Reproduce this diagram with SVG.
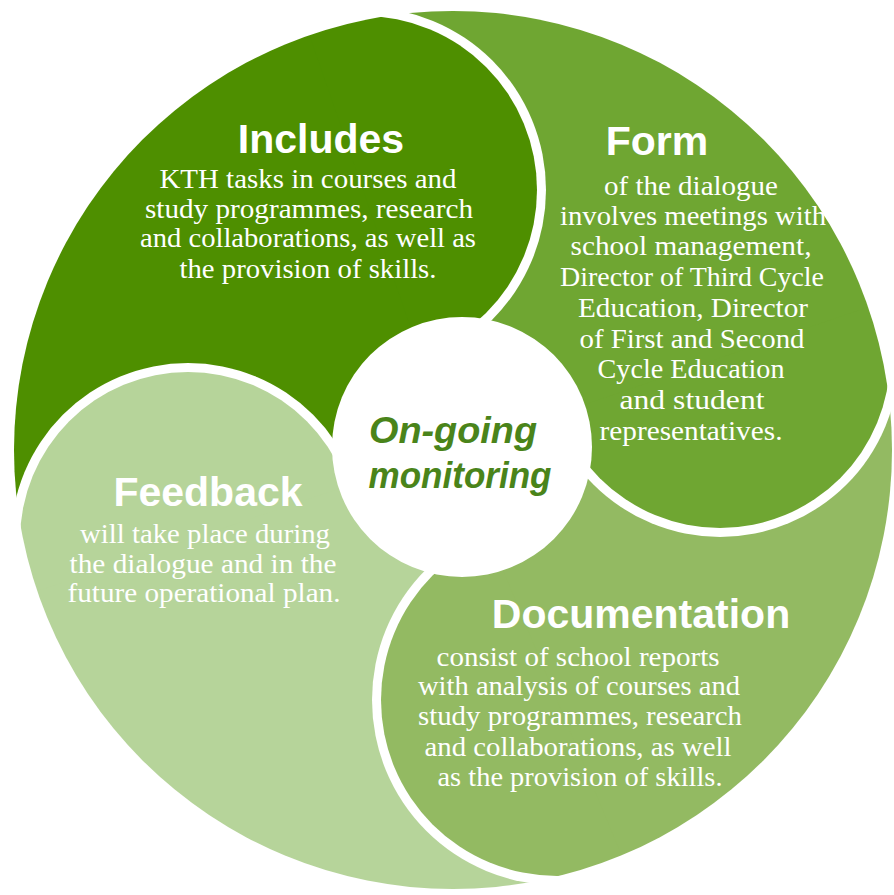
<svg xmlns="http://www.w3.org/2000/svg" width="894" height="895" viewBox="0 0 894 895">
  <style>
    .title { font-family: "Liberation Sans", Arial, sans-serif; font-weight: bold; font-size: 41px; fill: #ffffff; text-anchor: middle; }
    .body { font-family: "Liberation Serif", "Times New Roman", serif; font-size: 28px; fill: #ffffff; text-anchor: middle; }
    .hub { font-family: "Liberation Sans", Arial, sans-serif; font-weight: bold; font-style: italic; font-size: 36px; fill: #4a841a; text-anchor: middle; }
  </style>
  <defs>
    <!-- overall disc that every segment is cut to -->
    <clipPath id="rim"><circle cx="453" cy="450" r="439"/></clipPath>
    <!-- each segment loses the previous lobe plus a white gap -->
    <mask id="cutFeedbackLobe" maskUnits="userSpaceOnUse" x="0" y="0" width="894" height="895">
      <rect width="894" height="895" fill="#fff"/>
      <circle cx="188" cy="540" r="177" fill="#000"/>
    </mask>
    <mask id="cutIncludesLobe" maskUnits="userSpaceOnUse" x="0" y="0" width="894" height="895">
      <rect width="894" height="895" fill="#fff"/>
      <circle cx="363" cy="190" r="183" fill="#000"/>
    </mask>
    <mask id="cutFormLobe" maskUnits="userSpaceOnUse" x="0" y="0" width="894" height="895">
      <rect width="894" height="895" fill="#fff"/>
      <circle cx="720" cy="358" r="179" fill="#000"/>
    </mask>
    <mask id="cutDocLobe" maskUnits="userSpaceOnUse" x="0" y="0" width="894" height="895">
      <rect width="894" height="895" fill="#fff"/>
      <circle cx="557" cy="700" r="185" fill="#000"/>
    </mask>
  </defs>

  <rect width="894" height="895" fill="#ffffff"/>

  <!-- Includes: lobe upper-left, tail running down the left rim -->
  <g id="includes">
    <g clip-path="url(#rim)" mask="url(#cutFeedbackLobe)" fill="#4e8f00">
      <circle cx="363" cy="190" r="174"/>
      <polygon points="453,450 -872,900 -1322,-400 3,-850"/>
    </g>
    <text class="title" x="321" y="153">Includes</text>
    <text class="body" x="308" y="188" textLength="297" lengthAdjust="spacingAndGlyphs">KTH tasks in courses and</text>
    <text class="body" x="309" y="218" textLength="328" lengthAdjust="spacingAndGlyphs">study programmes, research</text>
    <text class="body" x="308" y="247" textLength="336" lengthAdjust="spacingAndGlyphs">and collaborations, as well as</text>
    <text class="body" x="308" y="278" textLength="257" lengthAdjust="spacingAndGlyphs">the provision of skills.</text>
  </g>

  <!-- Form: lobe upper-right, tail along the top rim -->
  <g id="form">
    <g clip-path="url(#rim)" mask="url(#cutIncludesLobe)" fill="#6fa632">
      <circle cx="720" cy="358" r="170"/>
      <polygon points="453,450 3,-850 1338,-1310 1788,-10"/>
    </g>
    <text class="title" x="657" y="155">Form</text>
    <text class="body" x="691" y="195" textLength="174" lengthAdjust="spacingAndGlyphs">of the dialogue</text>
    <text class="body" x="693" y="225" textLength="266" lengthAdjust="spacingAndGlyphs">involves meetings with</text>
    <text class="body" x="691" y="255" textLength="241" lengthAdjust="spacingAndGlyphs">school management,</text>
    <text class="body" x="692" y="286" textLength="264" lengthAdjust="spacingAndGlyphs">Director of Third Cycle</text>
    <text class="body" x="693" y="317" textLength="230" lengthAdjust="spacingAndGlyphs">Education, Director</text>
    <text class="body" x="692" y="348" textLength="225" lengthAdjust="spacingAndGlyphs">of First and Second</text>
    <text class="body" x="691" y="378" textLength="187" lengthAdjust="spacingAndGlyphs">Cycle Education</text>
    <text class="body" x="692" y="409" textLength="145" lengthAdjust="spacingAndGlyphs">and student</text>
    <text class="body" x="691" y="440" textLength="183" lengthAdjust="spacingAndGlyphs">representatives.</text>
  </g>

  <!-- Documentation: lobe lower-right, tail up the right rim -->
  <g id="documentation">
    <g clip-path="url(#rim)" mask="url(#cutFormLobe)" fill="#93ba62">
      <circle cx="557" cy="700" r="176"/>
      <polygon points="453,450 1788,-10 2308,1240 973,1700"/>
    </g>
    <text class="title" x="641" y="628">Documentation</text>
    <text class="body" x="578" y="666" textLength="283" lengthAdjust="spacingAndGlyphs">consist of school reports</text>
    <text class="body" x="579" y="695" textLength="322" lengthAdjust="spacingAndGlyphs">with analysis of courses and</text>
    <text class="body" x="580" y="725" textLength="324" lengthAdjust="spacingAndGlyphs">study programmes, research</text>
    <text class="body" x="578" y="756" textLength="307" lengthAdjust="spacingAndGlyphs">and collaborations, as well</text>
    <text class="body" x="580" y="786" textLength="285" lengthAdjust="spacingAndGlyphs">as the provision of skills.</text>
  </g>

  <!-- Feedback: lobe lower-left, tail along the bottom rim -->
  <g id="feedback">
    <g clip-path="url(#rim)" mask="url(#cutDocLobe)" fill="#b6d49a">
      <circle cx="188" cy="540" r="168"/>
      <polygon points="453,450 973,1700 -352,2150 -872,900"/>
    </g>
    <text class="title" x="208" y="506">Feedback</text>
    <text class="body" x="205" y="543" textLength="250" lengthAdjust="spacingAndGlyphs">will take place during</text>
    <text class="body" x="203" y="573" textLength="267" lengthAdjust="spacingAndGlyphs">the dialogue and in the</text>
    <text class="body" x="204" y="602" textLength="273" lengthAdjust="spacingAndGlyphs">future operational plan.</text>
  </g>

  <!-- central hub -->
  <g id="hub">
    <circle cx="462" cy="447" r="130" fill="#ffffff"/>
    <text class="hub" x="453" y="443" textLength="168" lengthAdjust="spacingAndGlyphs">On-going</text>
    <text class="hub" x="460" y="488" textLength="183" lengthAdjust="spacingAndGlyphs">monitoring</text>
  </g>
</svg>
